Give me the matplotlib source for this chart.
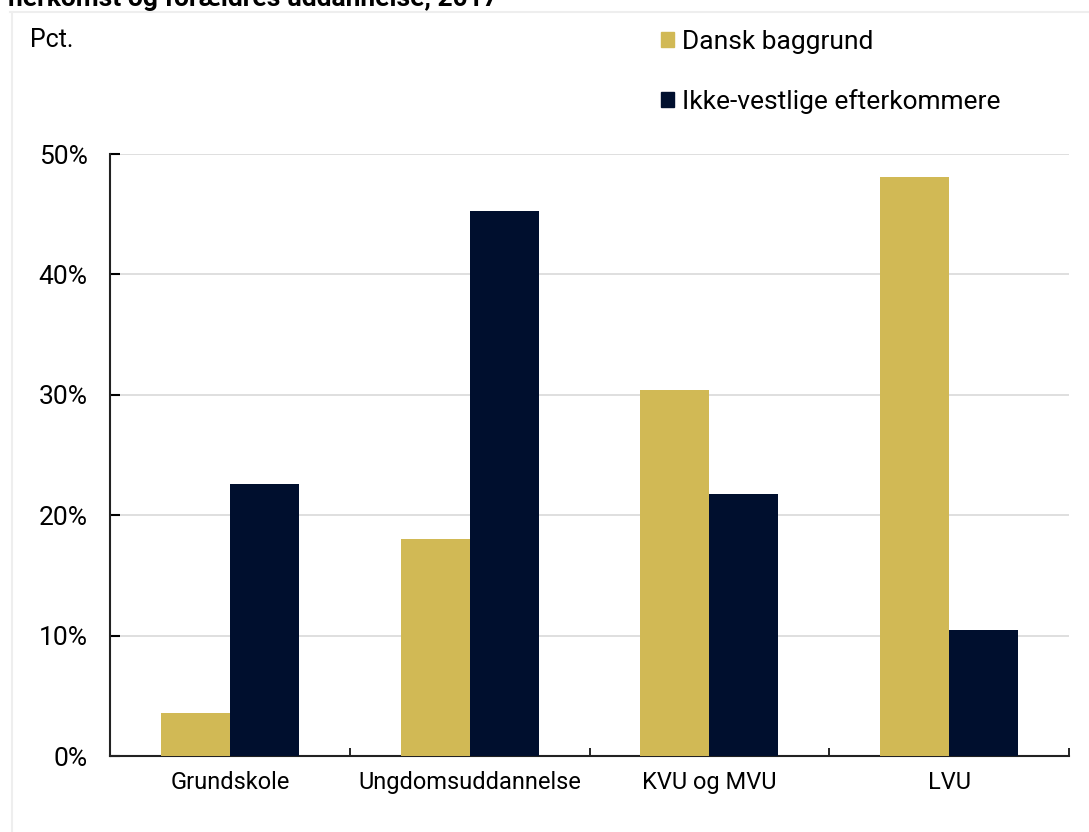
import matplotlib
matplotlib.use("Agg")
import matplotlib.pyplot as plt
import numpy as np
from matplotlib.lines import Line2D
from matplotlib.patches import Patch

plt.rcParams['font.family'] = ['Roboto', 'DejaVu Sans']

categories = ["Grundskole", "Ungdomsuddannelse", "KVU og MVU", "LVU"]
series_names = ["Dansk baggrund", "Ikke-vestlige efterkommere"]
dansk = [3.6, 18.0, 30.4, 48.1]
ikke_vestlige = [22.6, 45.3, 21.8, 10.5]
yticks = [0, 10, 20, 30, 40, 50]
ytick_labels = ["0%", "10%", "20%", "30%", "40%", "50%"]
title = "herkomst og forældres uddannelse, 2017"

gold = "#D1B955"
navy = "#000F2E"

W, H = 1089, 832
fig = plt.figure(figsize=(W / 100, H / 100), dpi=100)
ax = fig.add_axes([110 / W, 1 - 756 / H, (1069 - 110) / W, (756 - 154) / H])

x = np.arange(len(categories))
bw = 0.2875
ax.bar(x - bw / 2, dansk, bw, color=gold, label=series_names[0], zorder=3)
ax.bar(x + bw / 2, ikke_vestlige, bw, color=navy, label=series_names[1], zorder=3)

ax.set_xlim(-0.5, len(categories) - 0.5)
ax.set_ylim(0, 50)
ax.set_yticks(yticks)
ax.set_yticklabels(ytick_labels, fontsize=19)
ax.set_xticks(x)
ax.set_xticklabels(categories, fontsize=17)
ax.set_xticks(np.arange(len(categories) + 1) - 0.5, minor=True)
ax.tick_params(axis='x', which='major', length=0, pad=11)
ax.tick_params(axis='x', which='minor', length=6, width=1.2, direction='in')
ax.tick_params(axis='y', length=7, width=1.5, direction='in', pad=16)
ax.yaxis.grid(True, color="#D9D9D9", linewidth=1.2, zorder=0)
for s in ['top', 'right']:
    ax.spines[s].set_visible(False)
for s in ['left', 'bottom']:
    ax.spines[s].set_linewidth(1.5)
    ax.spines[s].set_color("#222222")

# frame lines
fig.add_artist(Line2D([10 / W, 1], [1 - 12 / H, 1 - 12 / H], color="#EEEEEE", lw=1.5))
fig.add_artist(Line2D([12 / W, 12 / W], [0, 1 - 12 / H], color="#EEEEEE", lw=1.5))

# cropped title
fig.text(8 / W, 1 - 6 / H, title, fontsize=19, fontweight='bold', va='baseline', ha='left')

fig.text(30 / W, 1 - 40 / H, "Pct.", fontsize=18, va='center', ha='left')

handles = [Patch(color=gold), Patch(color=navy)]
leg = fig.legend(handles, series_names, loc='upper left',
                 bbox_to_anchor=(661 / W, 1 - 30 / H), frameon=False,
                 borderpad=0, borderaxespad=0,
                 fontsize=19, handlelength=0.5, handleheight=0.5,
                 handletextpad=0.3, labelspacing=1.33)

fig.savefig("out.png", dpi=100)
